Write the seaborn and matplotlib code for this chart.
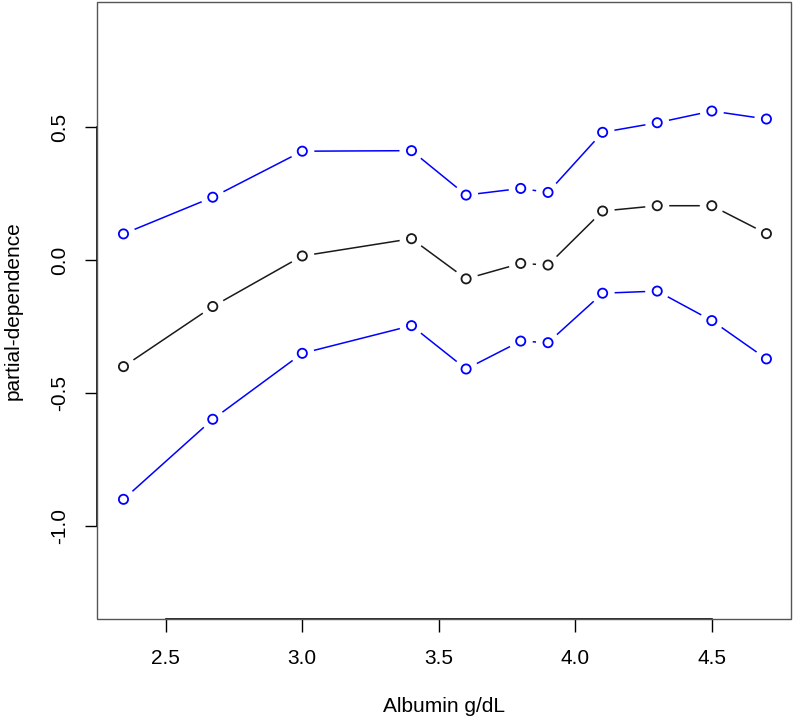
import numpy as np
import pandas as pd
import matplotlib
matplotlib.use('Agg')
import matplotlib.pyplot as plt
from matplotlib.patches import Rectangle
import seaborn as sns

# values
albumin = [2.345, 2.672, 3.0, 3.4, 3.6, 3.8, 3.9, 4.1, 4.3, 4.5, 4.7]
pd_upper = [0.098, 0.236, 0.409, 0.411, 0.244, 0.269, 0.254, 0.480, 0.516, 0.560, 0.530]
pd_mid = [-0.401, -0.175, 0.015, 0.080, -0.071, -0.013, -0.019, 0.184, 0.204, 0.204, 0.099]
pd_lower = [-0.900, -0.599, -0.351, -0.247, -0.410, -0.305, -0.311, -0.125, -0.117, -0.228, -0.372]

x_ticks = [2.5, 3.0, 3.5, 4.0, 4.5]
y_ticks = [-1.0, -0.5, 0.0, 0.5]

sns.set_style('white')
plt.rcParams['font.family'] = ['Liberation Sans', 'DejaVu Sans']

fig = plt.figure(figsize=(7.95, 7.22), dpi=100)
ax = fig.add_axes([97 / 795, 1 - 619 / 722, (791 - 97) / 795, (619 - 2) / 722])

series = [(pd_upper, 'blue'), (pd_mid, '#1a1a1a'), (pd_lower, 'blue')]

# lines first
for vals, col in series:
    sns.lineplot(x=albumin, y=vals, color=col, linewidth=1.1, sort=False,
                 estimator=None, ax=ax, zorder=1)

# white halos to mimic R's type="b" gaps
for vals, col in series:
    sns.scatterplot(x=albumin, y=vals, s=300, color='white', edgecolor='none',
                    linewidth=0, ax=ax, zorder=2)

# hollow circles
for vals, col in series:
    sns.scatterplot(x=albumin, y=vals, s=44, facecolor='none', edgecolor=col,
                    linewidth=1.3, ax=ax, zorder=3)

ax.set_xlim(2.248, 4.79)
ax.set_ylim(-1.35, 0.97)

ax.set_xticks(x_ticks)
ax.set_xticklabels([f'{t:.1f}' for t in x_ticks])
ax.set_yticks(y_ticks)
ax.set_yticklabels([f'{t:.1f}' for t in y_ticks], rotation=90, va='center')

ax.tick_params(axis='x', direction='out', length=9.4, width=1, pad=12,
               labelsize=15, bottom=True, colors='black')
ax.tick_params(axis='y', direction='out', length=9, width=1, pad=11,
               labelsize=15, left=True, colors='black')

# R style: grey box plus black axis lines only between the outer ticks
for side in ['top', 'right']:
    ax.spines[side].set_visible(False)
ax.spines['left'].set_bounds(y_ticks[0], y_ticks[-1])
ax.spines['bottom'].set_bounds(x_ticks[0], x_ticks[-1])
for side in ['left', 'bottom']:
    ax.spines[side].set_color('black')
    ax.spines[side].set_linewidth(1.2)
ax.add_patch(Rectangle((0, 0), 1, 1, transform=ax.transAxes, fill=False,
                       edgecolor='#555555', linewidth=1.0, clip_on=False, zorder=5))

ax.set_xlabel('Albumin g/dL', fontsize=15, color='black')
ax.set_ylabel('partial-dependence', fontsize=15, color='black')
ax.xaxis.set_label_coords(0.5, -0.127)
ax.yaxis.set_label_coords(-0.107, 0.5)

fig.savefig('out.png', dpi=100)
